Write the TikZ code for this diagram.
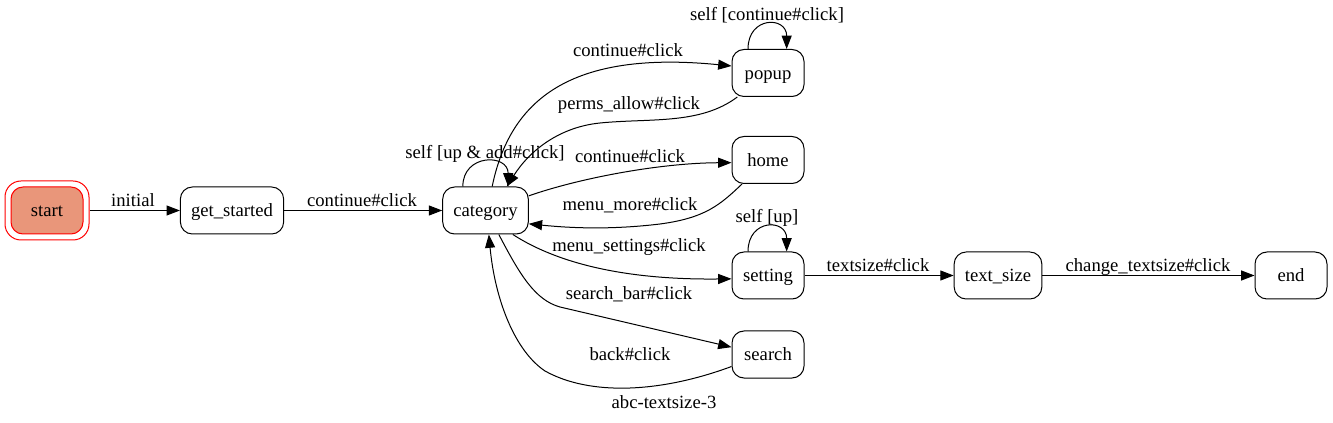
\documentclass[tikz,border=0pt]{standalone}
\usepackage{fontspec}
\setmainfont{Liberation Serif}
\usetikzlibrary{arrows.meta}

\begin{document}
\begin{tikzpicture}[
        x=0.75pt, y=-0.75pt,
        >={Triangle[length=10pt, width=7.5pt]},
        line width=0.75pt,
        state/.style={draw, fill=white, rounded corners=9pt, align=center, minimum width=54pt, minimum height=35.25pt, inner xsep=8pt, font=\fontsize{14}{16}\selectfont, text height=11.5pt, text depth=2pt},
        lbl/.style={inner sep=0pt, font=\fontsize{14}{16}\selectfont, text height=11.5pt, text depth=2pt}
    ]
        \useasboundingbox (0,0) rectangle (1333,423);

        \node[state, draw=red, fill=none, minimum width=63pt, minimum height=44.25pt, rounded corners=12pt] (startout) at (47,210.5) {};
        \node[state, draw=red, fill={rgb,255:red,233;green,150;blue,122}] (start) at (47,210.5) {start};
        \node[state] (getstarted) at (232,210.5) {get\_started};
        \node[state] (category) at (485.5,210.5) {category};
        \node[state] (popup) at (768,73) {popup};
        \node[state] (home) at (768,160) {home};
        \node[state] (setting) at (768,275.5) {setting};
        \node[state] (search) at (768,354.5) {search};
        \node[state] (textsize) at (998,275.5) {text\_size};
        \node[state] (end) at (1291,275.5) {end};

        \draw[->] (startout) -- (getstarted);
        \draw[->] (getstarted) -- (category);
        \draw[->] ([xshift=5pt]category.north) .. controls (510,100) and (570,50) .. ([yshift=5.25pt]popup.west);
        \draw[->] ([xshift=-23pt]popup.south) .. controls (700,125) and (650,118) .. (600,123) .. controls (560,127) and (530,150) .. ([xshift=16pt]category.north);
        \draw[->] ([xshift=-17pt]category.north) .. controls +(0,-33) and +(0,-33) .. ([xshift=17pt]category.north);
        \draw[->] ([yshift=11pt]category.east) .. controls (580,178) and (660,163) .. ([yshift=-2pt]home.west);
        \draw[->] ([xshift=-19.5pt]home.south) .. controls (720,205) and (705,218) .. (660,224) .. controls (610,230) and (570,228) .. ([yshift=-10pt]category.east);
        \draw[->] ([xshift=-15pt]popup.north) .. controls +(0,-33) and +(0,-33) .. ([xshift=14pt]popup.north);
        \draw[->] ([xshift=20.5pt]category.south) .. controls (560,265) and (630,280) .. ([yshift=-2.5pt]setting.west);
        \draw[->] ([xshift=10pt]category.south) .. controls (520,275) and (535,300) .. (560,307) -- ([yshift=5.5pt]search.west);
        \draw[->] ([yshift=-9pt]search.west) .. controls (660,393) and (590,396) .. (545,371) .. controls (515,351) and (495,300) .. ([xshift=2.5pt]category.south);
        \draw[->] ([xshift=-15pt]setting.north) .. controls +(0,-33) and +(0,-33) .. ([xshift=14pt]setting.north);
        \draw[->] (setting) -- (textsize);
        \draw[->] (textsize) -- (end);

        % edge labels
        \node[lbl] (initiallbl) at (133,200) {initial};
        \node[lbl] (getstartedlbl) at (362,200) {continue\#click};
        \node[lbl] (popuplbl) at (628,50) {continue\#click};
        \node[lbl] (permslbl) at (629,103) {perms\_allow\#click};
        \node[lbl] (catselflbl) at (485,152) {self [up \& add\#click]};
        \node[lbl] (homelbl) at (630,156) {continue\#click};
        \node[lbl] (morelbl) at (630,204) {menu\_more\#click};
        \node[lbl] (settingslbl) at (629,245) {menu\_settings\#click};
        \node[lbl] (searchlbl) at (629,293) {search\_bar\#click};
        \node[lbl] (backlbl) at (630,354) {back\#click};
        \node[lbl] (popupselflbl) at (767,14) {self [continue\#click]};
        \node[lbl] (settingselflbl) at (767,216) {self [up]};
        \node[lbl] (textsizelbl) at (878,265) {textsize\#click};
        \node[lbl] (changelbl) at (1148,265) {change\_textsize\#click};
        \node[lbl] (graphlbl) at (664,402) {abc-textsize-3};
    \end{tikzpicture}
\end{document}
